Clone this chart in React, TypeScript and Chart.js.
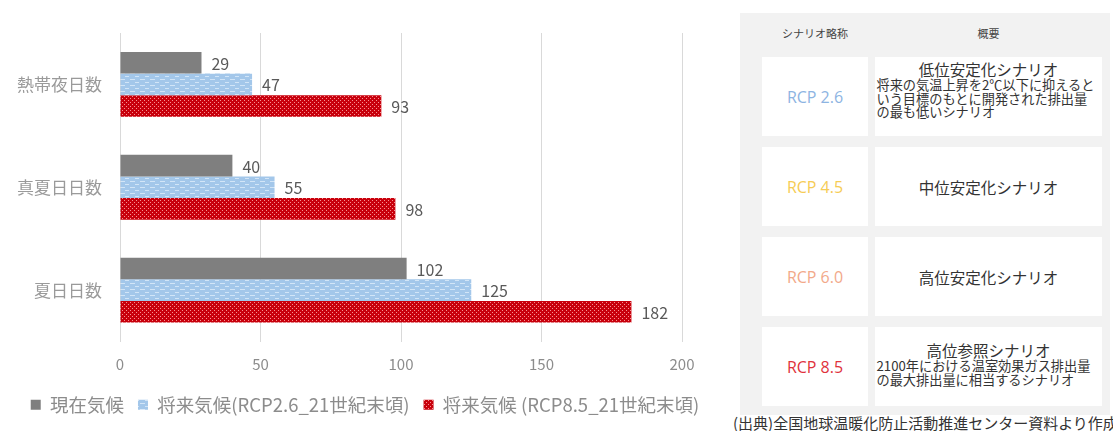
import React, { useEffect, useRef } from "react";
import { Chart, registerables } from "chart.js";

Chart.register(...registerables);

const categories = ["熱帯夜日数", "真夏日日数", "夏日日数"];
const seriesNames = ["現在気候", "将来気候(RCP2.6_21世紀末頃)", "将来気候 (RCP8.5_21世紀末頃)"];
const currentValues = [29, 40, 102];
const rcp26Values = [47, 55, 125];
const rcp85Values = [93, 98, 182];
const xTicks = [0, 50, 100, 150, 200];

const scenarioCodes = ["RCP 2.6", "RCP 4.5", "RCP 6.0", "RCP 8.5"];
const scenarioTitles = ["低位安定化シナリオ", "中位安定化シナリオ", "高位安定化シナリオ", "高位参照シナリオ"];
const scenarioNotes: string[][] = [
  ["将来の気温上昇を2℃以下に抑えると", "いう目標のもとに開発された排出量", "の最も低いシナリオ"],
  [],
  [],
  ["2100年における温室効果ガス排出量", "の最大排出量に相当するシナリオ"],
];
const scenarioColors = ["#8db4e2", "#f6cc55", "#f2a98a", "#e0323c"];
const sourceText = "(出典)全国地球温暖化防止活動推進センター資料より作成";

const JP = '"Noto Sans CJK JP", "Noto Sans", sans-serif';

function makePattern(kind: "red" | "blue"): CanvasPattern | string {
  const c = document.createElement("canvas");
  if (kind === "red") {
    c.width = 4;
    c.height = 4;
    const g = c.getContext("2d")!;
    g.fillStyle = "#c8000c";
    g.fillRect(0, 0, 4, 4);
    g.fillStyle = "rgba(255,170,170,0.85)";
    g.fillRect(0, 0, 1, 1);
    g.fillRect(2, 2, 1, 1);
    return g.createPattern(c, "repeat") || "#c8000c";
  }
  c.width = 10;
  c.height = 6;
  const g = c.getContext("2d")!;
  g.fillStyle = "#a3c7ea";
  g.fillRect(0, 0, 10, 6);
  g.fillStyle = "rgba(215,232,248,0.9)";
  g.fillRect(0, 1, 5, 1);
  g.fillRect(5, 4, 4, 1);
  return g.createPattern(c, "repeat") || "#a3c7ea";
}

const valueLabels = {
  id: "valueLabels",
  afterDatasetsDraw(chart: any) {
    const ctx = chart.ctx;
    ctx.save();
    ctx.font = `16px ${JP}`;
    ctx.fillStyle = "#595959";
    ctx.textAlign = "left";
    ctx.textBaseline = "middle";
    chart.data.datasets.forEach((ds: any, i: number) => {
      const meta = chart.getDatasetMeta(i);
      meta.data.forEach((el: any, j: number) => {
        ctx.fillText(String(ds.data[j]), el.x + 10, el.y + 1);
      });
    });
    ctx.restore();
  },
};

function BarChart() {
  const ref = useRef<HTMLCanvasElement>(null);
  useEffect(() => {
    if (!ref.current) return;
    const chart = new Chart(ref.current, {
      type: "bar",
      data: {
        labels: categories,
        datasets: [
          { label: seriesNames[0], data: currentValues, backgroundColor: "#7f7f7f" },
          { label: seriesNames[1], data: rcp26Values, backgroundColor: makePattern("blue") as any },
          { label: seriesNames[2], data: rcp85Values, backgroundColor: makePattern("red") as any },
        ],
      },
      options: {
        indexAxis: "y",
        responsive: false,
        animation: false,
        layout: { padding: { top: 33, bottom: 7, left: 0, right: 0 } },
        datasets: { bar: { categoryPercentage: 0.63, barPercentage: 1 } },
        scales: {
          x: {
            min: 0,
            max: 200,
            afterBuildTicks: (scale: any) => {
              scale.ticks = xTicks.map((v) => ({ value: v }));
            },
            afterFit: (scale: any) => {
              scale.height = 40;
            },
            grid: { color: "#d9d9d9", drawTicks: false },
            border: { display: false },
            ticks: { padding: 14, color: "#8c8c8c", font: { family: JP, size: 15 } },
          },
          y: {
            afterFit: (scale: any) => {
              scale.width = 120;
            },
            grid: { display: false, drawTicks: false },
            border: { display: false },
            ticks: { padding: 18, color: "#9a9a9a", font: { family: JP, size: 17 } },
          },
          yRight: {
            type: "category",
            position: "right",
            afterFit: (scale: any) => {
              scale.width = 48;
            },
            grid: { display: false, drawTicks: false },
            border: { display: false },
            ticks: { display: false },
          },
        },
        plugins: {
          legend: {
            position: "bottom",
            labels: {
              boxWidth: 10,
              boxHeight: 10,
              padding: 14,
              color: "#8c8c8c",
              font: { family: JP, size: 18.5 },
            },
          },
          tooltip: { enabled: false },
        },
      },
      plugins: [valueLabels],
    });
    return () => chart.destroy();
  }, []);
  return <canvas ref={ref} width={730} height={431} style={{ position: "absolute", left: 0, top: 0 }} />;
}

const rowTops = [57, 147, 237, 327];
const rowShift = [-7, 0, 0, -3];
const rowH = 79;

function ScenarioTable() {
  return (
    <div style={{ position: "absolute", left: 740, top: 13, width: 370, height: 402, background: "#f2f2f2" }}>
      <div style={{ position: "absolute", left: 22, width: 106, top: 12, textAlign: "center", fontSize: 11, color: "#444", fontFamily: JP }}>
        シナリオ略称
      </div>
      <div style={{ position: "absolute", left: 135, width: 227, top: 12, textAlign: "center", fontSize: 11, color: "#444", fontFamily: JP }}>
        概要
      </div>
      {scenarioCodes.map((code, i) => (
        <React.Fragment key={code}>
          <div
            style={{
              position: "absolute",
              left: 22,
              top: rowTops[i] - 13,
              width: 106,
              height: rowH,
              background: "#ffffff",
              display: "flex",
              alignItems: "center",
              justifyContent: "center",
              color: scenarioColors[i],
              fontSize: 16,
              fontFamily: '"Open Sans", sans-serif',
            }}
          >
            {code}
          </div>
          <div
            style={{
              position: "absolute",
              left: 135,
              top: rowTops[i] - 13,
              width: 227,
              height: rowH,
              background: "#ffffff",
              display: "flex",
              flexDirection: "column",
              alignItems: "center",
              justifyContent: "center",
              fontFamily: JP,
              color: "#333",
            }}
          >
            <div style={{ transform: `translateY(${rowShift[i]}px)`, display: "flex", flexDirection: "column", alignItems: "center" }}>
              <div style={{ fontSize: 15.5, lineHeight: "18px" }}>{scenarioTitles[i]}</div>
              {scenarioNotes[i].length > 0 && (
                <div style={{ fontSize: 13.2, lineHeight: "13.5px", width: 224, textAlign: "left", whiteSpace: "nowrap" }}>
                  {scenarioNotes[i].map((l) => (
                    <div key={l}>{l}</div>
                  ))}
                </div>
              )}
            </div>
          </div>
        </React.Fragment>
      ))}
    </div>
  );
}

export default function App() {
  return (
    <div style={{ position: "fixed", left: 0, top: 0, width: 1113, height: 431, overflow: "hidden", background: "#fff" }}>
      <BarChart />
      <ScenarioTable />
      <div
        style={{
          position: "absolute",
          left: 733,
          top: 414,
          fontSize: 15,
          lineHeight: "18px",
          whiteSpace: "nowrap",
          color: "#333",
          fontFamily: JP,
        }}
      >
        {sourceText}
      </div>
    </div>
  );
}
